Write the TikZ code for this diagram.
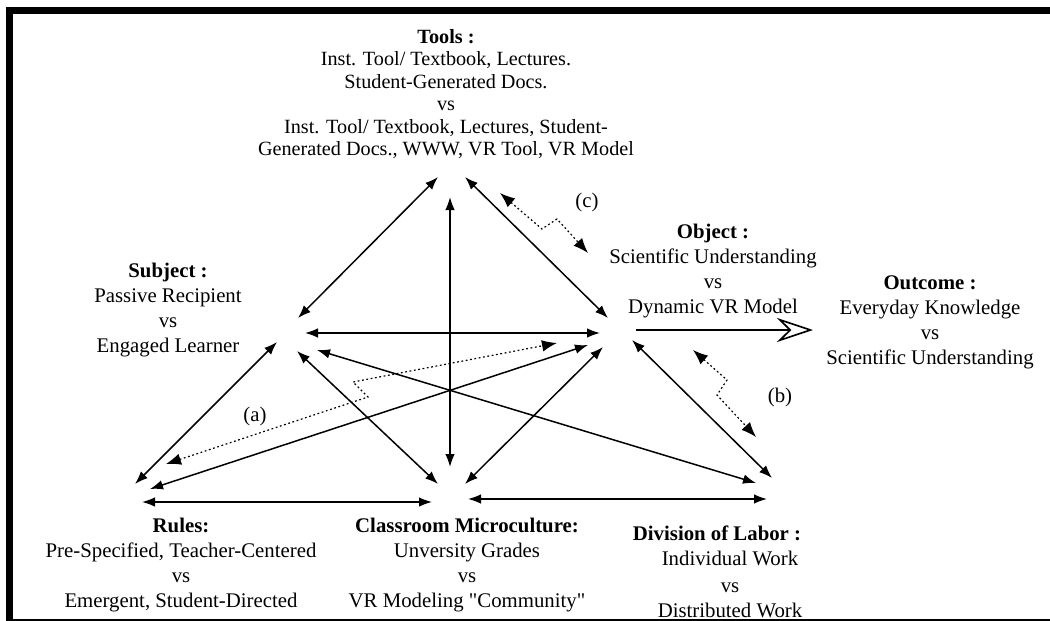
\documentclass[tikz,border=0pt]{standalone}
\usepackage{fontspec}
\setmainfont{Liberation Serif}[Ligatures=TeXOff]
\usetikzlibrary{arrows.meta}

\begin{document}
\begin{tikzpicture}[x=0.5pt,y=-0.5pt,
  link/.style={line width=0.75pt,
    {Latex[length=6.5pt,width=4.8pt]}-{Latex[length=6.5pt,width=4.8pt]}},
  hint/.style={line width=0.6pt,dash pattern=on 0.9pt off 1.3pt,
    {Latex[length=7.5pt,width=5.8pt]}-{Latex[length=7.5pt,width=5.8pt]}},
  lbl/.style={align=center,inner sep=0pt,
    font=\fontsize{10.4}{12.5}\selectfont},
  tag/.style={inner sep=0pt,font=\fontsize{10.4}{12}\selectfont}]

\useasboundingbox (0,0) rectangle (1050,621);
\fill[white] (0,0) rectangle (1050,621);

% frame
\fill[black] (6,7) rectangle (1050,14);
\fill[black] (6,7) rectangle (13,621);
\fill[black] (6,619) rectangle (1050,621);

% activity-system labels
\node[lbl,font=\fontsize{10.1}{11.2}\selectfont] (tools) at (446,94)
  {\textbf{Tools :}\\
   Inst. Tool/ Textbook, Lectures.\hspace*{45pt}\\
   Student-Generated Docs.\hspace*{13pt}\\
   vs\\
   Inst. Tool/ Textbook, Lectures, Student-\\
   Generated Docs., WWW, VR Tool, VR Model};

\node[lbl] (subject) at (168,310)
  {\textbf{Subject :}\\ Passive Recipient\\ vs\\ Engaged Learner};

\node[lbl] (object) at (713,271)
  {\textbf{Object :}\\ Scientific Understanding\\ vs\\ Dynamic VR Model};

\node[lbl] (outcome) at (930,322)
  {\textbf{Outcome :}\\ Everyday Knowledge\\ vs\\ Scientific Understanding};

\node[lbl] (rules) at (181,565)
  {\textbf{Rules:}\\ Pre-Specified, Teacher-Centered\\ vs\\ Emergent, Student-Directed};

\node[lbl] (micro) at (467,565)
  {\textbf{Classroom Microculture:}\\ Unversity Grades\\ vs\\ VR Modeling "Community"};

\node[lbl] (labor) at (730,572)
  {\textbf{Division of Labor :}\hspace*{13pt}\\ Individual Work\\[1pt] vs\\ Distributed Work};

% arrow end points
\coordinate (ts1) at (438,177);  \coordinate (ts2) at (298,318);
\coordinate (to1) at (465,177);  \coordinate (to2) at (608,318);
\coordinate (tc1) at (450,197);  \coordinate (tc2) at (450,467);
\coordinate (so1) at (305,333);  \coordinate (so2) at (600,333);
\coordinate (sr1) at (277,342);  \coordinate (sr2) at (135,484);
\coordinate (sc1) at (297,351);  \coordinate (sc2) at (438,484);
\coordinate (sd1) at (317,350);  \coordinate (sd2) at (756,483);
\coordinate (ro1) at (150,489);  \coordinate (ro2) at (588,345);
\coordinate (co1) at (465,484);  \coordinate (co2) at (603,347);
\coordinate (od1) at (632,340);  \coordinate (od2) at (772,478);
\coordinate (rc1) at (142,502);  \coordinate (rc2) at (432,502);
\coordinate (cd1) at (468,499);  \coordinate (cd2) at (767,499);
\coordinate (oc1) at (636,330);  \coordinate (oc2) at (813,330);

% contradiction paths
\coordinate (a1) at (166,464);  \coordinate (a2) at (557,343);
\coordinate (c1) at (500,193);  \coordinate (c2) at (588,253);
\coordinate (b1) at (693,350);  \coordinate (b2) at (756,437);

% mediating relations
\draw[link] (ts1) -- (ts2);
\draw[link] (to1) -- (to2);
\draw[link] (tc1) -- (tc2);
\draw[link] (so1) -- (so2);
\draw[link] (sr1) -- (sr2);
\draw[link] (sc1) -- (sc2);
\draw[link] (sd1) -- (sd2);
\draw[link] (ro1) -- (ro2);
\draw[link] (co1) -- (co2);
\draw[link] (od1) -- (od2);
\draw[link] (rc1) -- (rc2);
\draw[link] (cd1) -- (cd2);

% object to outcome
\draw[line width=1.3pt,
  -{Stealth[open,length=18pt,width=12pt,inset=6pt,line width=0.8pt]}]
  (oc1) -- (oc2);

% contradictions (a), (b), (c)
\draw[hint] (a1) -- (368,397) -- (353,382) -- (a2);
\draw[hint] (c1) -- (542,229) -- (557,219) -- (c2);
\draw[hint] (b1) -- (727,380) -- (717,395) -- (b2);

\node[tag] (la) at (255,416) {(a)};
\node[tag] (lb) at (780,397) {(b)};
\node[tag] (lc) at (587,202) {(c)};

\end{tikzpicture}
\end{document}
